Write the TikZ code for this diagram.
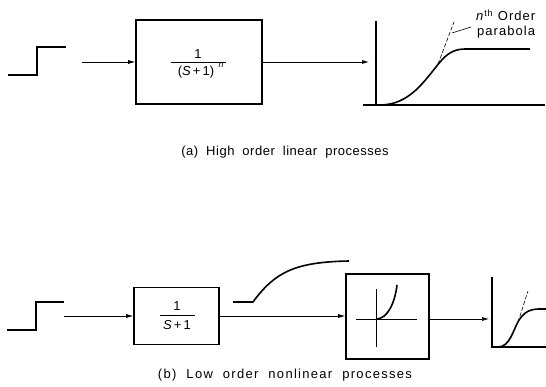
\documentclass[tikz,border=0pt]{standalone}
\usepackage{fontspec}
\setmainfont{Liberation Sans}
\usetikzlibrary{arrows.meta}
\newcommand{\wsp}{\hspace{8pt}}
\newcommand{\wspb}{\hspace{10pt}}
\begin{document}
\begin{tikzpicture}[x=1pt,y=-1pt,
  heavy/.style={line width=1.6pt},
  conn/.style={line width=0.7pt,-{Latex[length=7pt,width=4pt]}},
  blockbox/.style={draw,line width=1.6pt,inner sep=0pt},
  caption/.style={font=\fontsize{13}{15}\selectfont\addfontfeature{LetterSpace=4},inner sep=0pt},
  captionb/.style={font=\fontsize{13}{15}\selectfont\addfontfeature{LetterSpace=10},inner sep=0pt},
  lbl/.style={font=\fontsize{13}{14}\selectfont\addfontfeature{LetterSpace=8},inner sep=0pt,align=left},
  frac/.style={font=\fontsize{13}{14}\selectfont,inner sep=0pt}]
\useasboundingbox (0,0) rectangle (546,387);

% ---------- (a) ----------
\draw[heavy] (8,75) -- (37,75) -- (37,47) -- (66,47);
\coordinate (a0) at (82,62);
\node[blockbox,minimum width=126pt,minimum height=84pt] (boxA) at (199,62) {};
\node[frac] (numA) at (198,54) {1};
\node[frac] (denA) at (196,72) {(\textit{S}\,+\,1)};
\node[frac,font=\fontsize{9}{10}\selectfont\itshape] (expA) at (221,65) {n};
\draw[line width=0.6pt] (171,62) -- (226,62);
\draw[conn] (a0) -- (boxA.west);
\coordinate (a1) at (369,62);
\draw[conn] (boxA.east) -- (a1);
\draw[heavy] (376,21) -- (376,105);
\draw[heavy] (363,105) -- (545,105);
\draw[heavy] (380,105) .. controls (410,105) and (425,80) .. (440,62)
  .. controls (452,48) and (460,49) .. (472,49) -- (530,49);
\draw[line width=0.6pt,dash pattern=on 4pt off 2pt] (438,64) -- (454,22);
\node[lbl,anchor=west] (ordA) at (476,15) {\textit{n}\textsuperscript{th} Order};
\node[lbl,anchor=west] (parA) at (477,32) {parabola};
\draw[line width=0.6pt] (452,33) -- (471,27);
\node[caption] (capA) at (285,152) {(a)\wsp High\wsp order\wsp linear\wsp processes};

% ---------- (b) ----------
\draw[heavy] (7,330) -- (36,330) -- (36,302) -- (64,302);
\node[blockbox,minimum width=85pt,minimum height=57pt] (boxB) at (176.5,316) {};
\coordinate (b0) at (64,316);
\node[frac] (numB) at (177,306) {1};
\node[frac] (denB) at (177,325) {\textit{S}\,+\,1};
\draw[line width=0.6pt] (160,315) -- (195,315);
\draw[conn] (b0) -- (boxB.west);
\node[blockbox,minimum width=83pt,minimum height=85pt] (boxC) at (387.5,316.5) {};
\draw[conn] (boxB.east) -- (boxC.west |- boxB.east);
\draw[heavy] (233,302) -- (253,302) .. controls (275,272) and (295,262) .. (349,261);
\draw[line width=1pt] (376,289) -- (376,347);
\draw[line width=1pt] (356,319) -- (417,319);
\draw[heavy] (376,319) .. controls (388,319) and (395,302) .. (397,285);
\coordinate (c1) at (489,319);
\draw[conn] (boxC.east |- c1) -- (c1);
\draw[heavy] (492,277) -- (492,347) -- (546,347);
\draw[heavy] (498,347) .. controls (510,347) and (513,330) .. (519,320)
  .. controls (527,308) and (535,309) .. (546,309);
\draw[line width=0.6pt,dash pattern=on 4pt off 2pt] (518,322) -- (528,291);
\node[captionb] (capB) at (285,375) {(b)\wspb Low\wspb order\wspb nonlinear\wspb processes};
\end{tikzpicture}
\end{document}
